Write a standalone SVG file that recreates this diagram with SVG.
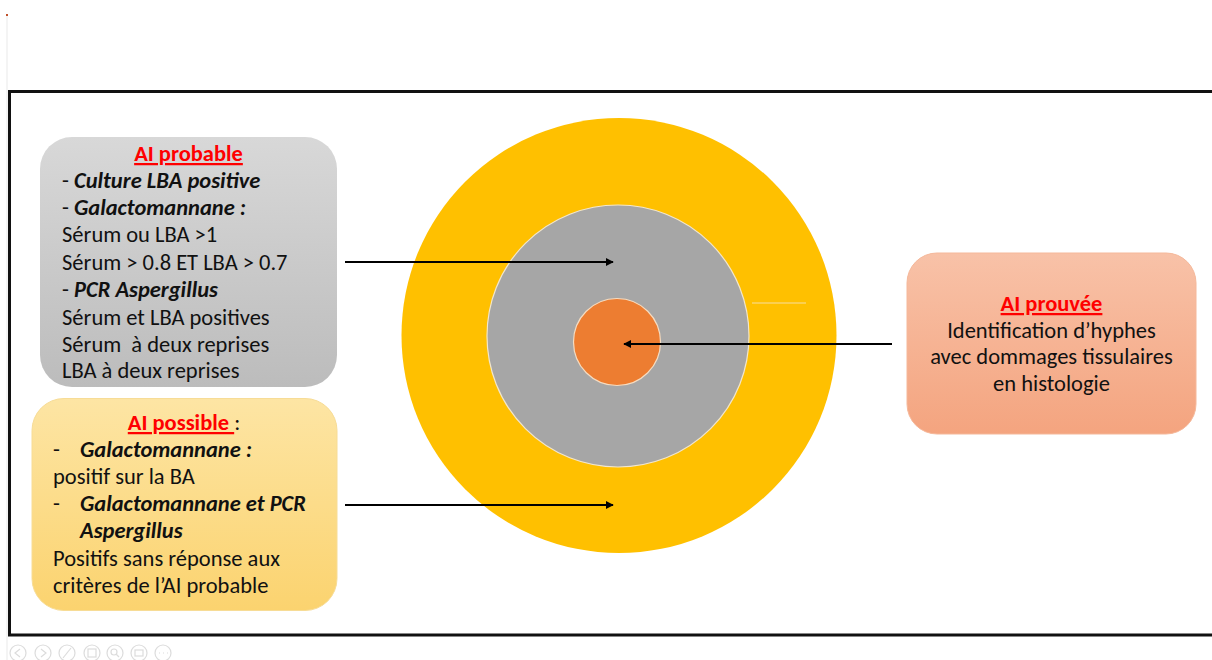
<svg xmlns="http://www.w3.org/2000/svg" width="1212" height="660" viewBox="0 0 1212 660">
<style>
.t{font-family:Carlito,Lato,"Liberation Sans",sans-serif;font-size:22.5px;fill:#111}
.bi{font-weight:bold;font-style:italic}
.ttl{fill:#ff0000;font-weight:bold;text-decoration:underline}
.conn{stroke:#000;stroke-width:2;fill:none;marker-end:url(#ah)}
.ic{fill:none;stroke:#dcdcdc;stroke-width:1.2}
</style>
<defs>
<marker id="ah" viewBox="0 0 10 10" refX="9" refY="5" markerWidth="8" markerHeight="8" markerUnits="userSpaceOnUse" orient="auto">
<path d="M0,0 L10,5 L0,10 z" fill="#000"/>
</marker>
<linearGradient id="gGray" x1="0" y1="0" x2="0" y2="1">
<stop offset="0" stop-color="#d8d8d8"/><stop offset="1" stop-color="#bcbcbc"/>
</linearGradient>
<linearGradient id="gYel" x1="0" y1="0" x2="0" y2="1">
<stop offset="0" stop-color="#fde5a4"/><stop offset="1" stop-color="#fbd36f"/>
</linearGradient>
<linearGradient id="gSal" x1="0" y1="0" x2="0" y2="1">
<stop offset="0" stop-color="#f8c2a8"/><stop offset="1" stop-color="#f4a47f"/>
</linearGradient>
</defs>
<rect width="1212" height="660" fill="#fff"/>
<line x1="7" y1="15" x2="7" y2="660" stroke="#f0f0f0" stroke-width="1.5"/>
<rect x="6" y="14" width="2" height="2" fill="#c0502a"/>
<path d="M1213,91.5 H9.5 V635 H1213" fill="none" stroke="#111" stroke-width="3"/>

<g id="target">
<circle cx="619" cy="335.5" r="217.5" fill="#ffc000"/>
<circle cx="618" cy="336" r="131" fill="#a6a6a6" stroke="#f2e6cc" stroke-width="1.2"/>
<circle cx="617" cy="342" r="43.5" fill="#ed7d31" stroke="#f6dcc0" stroke-width="1.2"/>
<line x1="752" y1="303" x2="806" y2="303" stroke="#f7dfa0" stroke-width="1"/>
</g>

<g id="probable">
<rect x="40" y="137" width="297" height="250" rx="32" fill="url(#gGray)"/>
<text class="t ttl" x="188.5" y="161" text-anchor="middle">AI probable</text>
<text class="t" x="62" y="188">- <tspan class="bi">Culture LBA positive</tspan></text>
<text class="t" x="62" y="215">- <tspan class="bi">Galactomannane :</tspan></text>
<text class="t" x="62" y="242">Sérum ou LBA &gt;1</text>
<text class="t" x="62" y="270">Sérum &gt; 0.8 ET LBA &gt; 0.7</text>
<text class="t" x="62" y="297">- <tspan class="bi">PCR Aspergillus</tspan></text>
<text class="t" x="62" y="325">Sérum et LBA positives</text>
<text class="t" x="62" y="352" xml:space="preserve">Sérum  à deux reprises</text>
<text class="t" x="62" y="378">LBA à deux reprises</text>
</g>

<g id="possible">
<rect x="32" y="398.5" width="305" height="212" rx="32" fill="url(#gYel)" stroke="#f7dc96" stroke-width="1"/>
<text class="t" x="184" y="430" text-anchor="middle"><tspan class="ttl" xml:space="preserve">AI possible </tspan>:</text>
<text class="t" x="53" y="457">-</text>
<text class="t bi" x="80" y="457">Galactomannane :</text>
<text class="t" x="53" y="484">positif sur la BA</text>
<text class="t" x="53" y="511">-</text>
<text class="t bi" x="80" y="511">Galactomannane et PCR</text>
<text class="t bi" x="80" y="538">Aspergillus</text>
<text class="t" x="53" y="566">Positifs sans réponse aux</text>
<text class="t" x="53" y="593">critères de l’AI probable</text>
</g>

<g id="prouvee">
<rect x="907" y="253" width="289" height="181" rx="30" fill="url(#gSal)" stroke="#f5b89a" stroke-width="1"/>
<text class="t ttl" x="1051.5" y="311" text-anchor="middle">AI prouvée</text>
<text class="t" x="1051.5" y="337.5" text-anchor="middle">Identification d’hyphes</text>
<text class="t" x="1051.5" y="364" text-anchor="middle">avec dommages tissulaires</text>
<text class="t" x="1051.5" y="391" text-anchor="middle">en histologie</text>
</g>

<g id="connectors">
<line class="conn" x1="345" y1="262" x2="613" y2="262"/>
<line class="conn" x1="892" y1="344" x2="624" y2="344"/>
<line class="conn" x1="345" y1="505" x2="613" y2="505"/>
</g>

<g id="toolbar">
<circle class="ic" cx="18" cy="653" r="8"/><path class="ic" d="M20,649 L15,653 L20,657"/>
<circle class="ic" cx="43" cy="653" r="8"/><path class="ic" d="M41,649 L46,653 L41,657"/>
<circle class="ic" cx="67" cy="653" r="8"/><path class="ic" d="M63,658 L71,648"/>
<circle class="ic" cx="92" cy="653" r="8"/><rect class="ic" x="88" y="649" width="8" height="8"/>
<circle class="ic" cx="115" cy="653" r="8"/><circle class="ic" cx="114" cy="652" r="3"/><path class="ic" d="M116,654 L119,657"/>
<circle class="ic" cx="139" cy="653" r="8"/><rect class="ic" x="135" y="650" width="8" height="6"/>
<circle class="ic" cx="163" cy="653" r="8"/><path class="ic" d="M159,653 h1 M163,653 h1 M167,653 h1"/>
</g>
</svg>
